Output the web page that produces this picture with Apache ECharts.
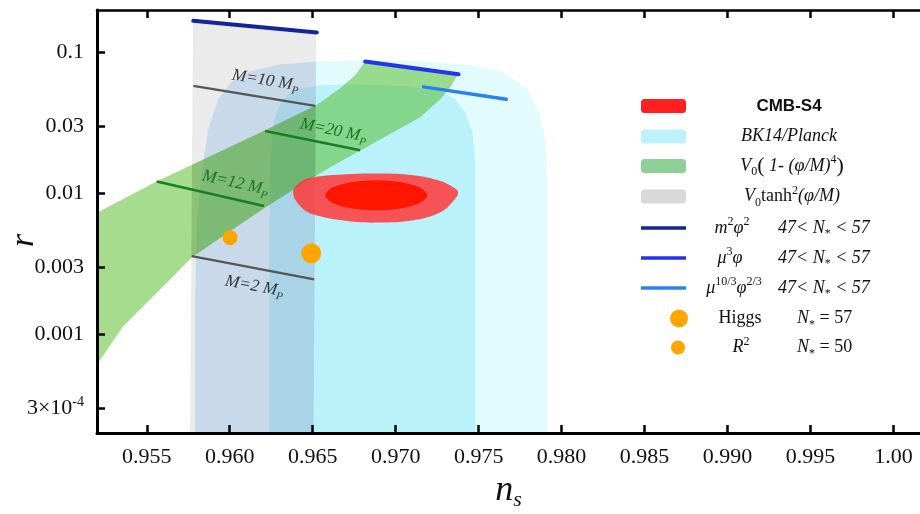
<!DOCTYPE html>
<html><head><meta charset="utf-8">
<script src="https://cdn.jsdelivr.net/npm/echarts@6/dist/echarts.min.js"></script>
<style>html,body{margin:0;padding:0;background:#fff}#c{width:920px;height:514px}</style>
</head><body><div id="c"></div>
<script>
// ---------------- data (ns, r) ----------------
const xTicks = [0.955, 0.960, 0.965, 0.970, 0.975, 0.980, 0.985, 0.990, 0.995, 1.00];
const xTickLabels = ['0.955', '0.960', '0.965', '0.970', '0.975', '0.980', '0.985', '0.990', '0.995', '1.00'];
const yTicks = [0.1, 0.03, 0.01, 0.003, 0.001, 0.0003];
const yTickLabels = ['0.1', '0.03', '0.01', '0.003', '0.001', '3×10^-4'];

const planckOuter = [[0.95791, 0.00012], [0.95791, 0.001772], [0.95803, 0.006555], [0.95833, 0.01484], [0.95870, 0.02853], [0.95930, 0.04661], [0.96014, 0.06254], [0.96123, 0.07366], [0.96304, 0.08260], [0.96545, 0.08675], [0.96816, 0.08817], [0.97148, 0.08675], [0.97450, 0.08126], [0.97649, 0.07246], [0.97793, 0.05487], [0.97860, 0.03768], [0.97902, 0.02423], [0.97914, 0.01260], [0.97914, 0.00012]];
const planckInner = [[0.96238, 0.00012], [0.96238, 0.004014], [0.96244, 0.01748], [0.96268, 0.03360], [0.96316, 0.04661], [0.96400, 0.05487], [0.96545, 0.05858], [0.96786, 0.05955], [0.97088, 0.05763], [0.97269, 0.05312], [0.97359, 0.04661], [0.97419, 0.03768], [0.97462, 0.02717], [0.97480, 0.01748], [0.97480, 0.00012]];
const tanhBand = [[0.95760, 0.00012], [0.95779, 0.1723], [0.96521, 0.1393], [0.96503, 0.00012]];
const hilltopBand = [[0.95152, 0.006806], [0.95562, 0.01220], [0.95882, 0.01835], [0.96213, 0.02807], [0.96521, 0.04224], [0.96666, 0.05577], [0.96756, 0.06901], [0.96816, 0.08675], [0.97377, 0.07014], [0.97329, 0.05670], [0.97269, 0.04661], [0.97148, 0.03472], [0.96605, 0.01533], [0.96424, 0.01143], [0.96207, 0.007847], [0.96002, 0.005387], [0.95773, 0.003522], [0.95562, 0.001987], [0.95357, 0.001140], [0.95152, 0.0005057]];
const cmbOuter = [[0.96382, 0.01019], [0.96424, 0.01200], [0.96503, 0.01302], [0.96708, 0.01368], [0.96907, 0.01383], [0.97106, 0.01346], [0.97269, 0.01226], [0.97347, 0.01105], [0.97377, 0.01019], [0.97347, 0.00884], [0.97269, 0.00735], [0.97106, 0.00645], [0.96889, 0.00621], [0.96708, 0.00637], [0.96503, 0.00711], [0.96424, 0.00815]];
const cmbInner = [[0.97190, 0.009702], [0.97149, 0.010965], [0.97036, 0.01200], [0.96883, 0.01240], [0.96729, 0.01200], [0.96616, 0.010965], [0.96575, 0.009702], [0.96616, 0.008582], [0.96729, 0.007845], [0.96883, 0.007593], [0.97036, 0.007845], [0.97149, 0.008582]];

const m2phi2 = [[0.9578, 0.1676], [0.96525, 0.1387]];
const mu3phi = [[0.96816, 0.08632], [0.97379, 0.07014]];
const mu103 = [[0.97168, 0.05698], [0.97667, 0.04661]];
const lineM10 = [[0.95781, 0.05793], [0.96515, 0.04177]];
const lineM2 = [[0.95771, 0.003597], [0.96509, 0.002458]];
const lineM12 = [[0.95560, 0.01214], [0.96207, 0.008146]];
const lineM20 = [[0.96213, 0.02776], [0.96786, 0.02025]];
const higgs = [[0.96491, 0.00376]];
const rSquared = [[0.96002, 0.00486]];

// ---------------- styling helpers ----------------
const SERIF = 'Liberation Serif';
function polySeries(name, pts, fill, opts) {
  opts = opts || {};
  return {
    type: 'custom', name: name, clip: true, silent: true,
    data: pts, encode: { x: 0, y: 1 },
    itemStyle: { color: fill },
    renderItem: function (params, api) {
      if (params.dataIndex !== 0) return null;
      const p = pts.map(v => api.coord(v));
      const el = { type: 'polygon', shape: { points: p, smooth: opts.smooth || 0 }, style: { fill: fill, stroke: null } };
      if (opts.clipTo) el.clipPath = { type: 'polygon', shape: { points: opts.clipTo.map(v => api.coord(v)) } };
      return el;
    }
  };
}
function labeledLine(pts, color, width, lab) {
  return {
    type: 'custom', clip: true, silent: true, data: pts, encode: { x: 0, y: 1 },
    renderItem: function (params, api) {
      if (params.dataIndex !== 0) return null;
      const a = api.coord(pts[0]), b = api.coord(pts[1]);
      const dx = b[0] - a[0], dy = b[1] - a[1], L = Math.hypot(dx, dy);
      const nx = dy / L, ny = -dx / L;
      const px = a[0] + dx * lab.t + nx * lab.off, py = a[1] + dy * lab.t + ny * lab.off;
      return {
        type: 'group', children: [
          { type: 'line', shape: { x1: a[0], y1: a[1], x2: b[0], y2: b[1] }, style: { stroke: color, lineWidth: width } },
          { type: 'text', x: px, y: py, rotation: -Math.atan2(dy, dx),
            style: { text: lab.text, align: 'center', verticalAlign: 'middle', fill: lab.color,
              rich: {
                i: { fontFamily: SERIF, fontStyle: 'italic', fontSize: 17, lineHeight: 22, fill: lab.color },
                s: { fontFamily: SERIF, fontStyle: 'italic', fontSize: 11, verticalAlign: 'bottom', fill: lab.color }
              } } }
        ]
      };
    }
  };
}
function lineSeries(name, pts, color, width) {
  return { type: 'line', name: name, data: pts, showSymbol: false, symbol: 'none', silent: true,
    lineStyle: { color: color, width: width, cap: 'round' }, itemStyle: { color: color } };
}

// ---------------- legend layout ----------------
const FONT = {
  b: { fontFamily: 'Liberation Sans', fontWeight: 'bold', fontSize: 17, lineHeight: 24 },
  i: { fontFamily: SERIF, fontStyle: 'italic', fontSize: 18, lineHeight: 24 },
  n: { fontFamily: SERIF, fontSize: 18, lineHeight: 24 },
  big: { fontFamily: SERIF, fontSize: 22, lineHeight: 24 },
  sup: { fontFamily: SERIF, fontSize: 12, verticalAlign: 'top' },
  sub: { fontFamily: SERIF, fontSize: 12, verticalAlign: 'bottom' }
};
const TEXT_H = 24;
const mctx = document.createElement('canvas').getContext('2d');
function tw(st, text) {
  const s = FONT[st];
  mctx.font = (s.fontStyle || 'normal') + ' ' + (s.fontWeight || 'normal') + ' ' + s.fontSize + 'px ' + s.fontFamily;
  return mctx.measureText(text).width;
}
const nStar = v => [['i', 'N'], ['sub', '*'], ['n', ' = ' + v]];
const nRange = [['i', '47< '], ['i', 'N'], ['sub', '*'], ['i', ' < 57']];
const legendRows = [
  { name: 'CMB-S4', icon: 'roundRect', color: '#ff2020', w: 45, h: 14, left: 641, cy: 109.5, c1: [['b', 'CMB-S4']], c1Center: 789 },
  { name: 'BK14/Planck', icon: 'roundRect', color: '#bdf2fb', w: 45, h: 14, left: 641, cy: 139.5, c1: [['i', 'BK14/Planck']], c1Center: 789 },
  { name: 'hilltop', icon: 'roundRect', color: '#8fd096', w: 45, h: 14, left: 641, cy: 166, c1: [['i', 'V'], ['sub', '0'], ['big', '('], ['i', ' 1- (φ/M)'], ['sup', '4'], ['big', ')']], c1Center: 792 },
  { name: 'tanh', icon: 'roundRect', color: '#d9d9d9', w: 45, h: 14, left: 641, cy: 196.5, c1: [['i', 'V'], ['sub', '0'], ['n', 'tanh'], ['sup', '2'], ['i', '(φ/M)']], c1Center: 792 },
  { name: 'm2phi2', icon: 'rect', color: '#14249a', w: 45, h: 3.5, left: 641, cy: 228, c1: [['i', 'm'], ['sup', '2'], ['i', 'φ'], ['sup', '2']], c1Center: 732, c2: nRange, c2Left: 778 },
  { name: 'mu3phi', icon: 'rect', color: '#2235e8', w: 45, h: 3.5, left: 641, cy: 258, c1: [['i', 'μ'], ['sup', '3'], ['i', 'φ']], c1Center: 730, c2: nRange, c2Left: 778 },
  { name: 'mu103', icon: 'rect', color: '#2a7ff5', w: 45, h: 3.5, left: 641, cy: 288, c1: [['i', 'μ'], ['sup', '10/3'], ['i', 'φ'], ['sup', '2/3']], c1Center: 734, c2: nRange, c2Left: 778 },
  { name: 'Higgs', icon: 'circle', color: '#ffa500', w: 18, h: 18, left: 670, cy: 321.5, c1: [['n', 'Higgs']], c1Center: 740, c2: nStar(57), c2Left: 797 },
  { name: 'R2', icon: 'circle', color: '#ffa500', w: 14, h: 14, left: 671, cy: 347.5, c1: [['i', 'R'], ['sup', '2']], c1Center: 741, c2: nStar(50), c2Left: 797 }
];
function buildLegend(row) {
  const textStart = row.left + row.w + 5;
  const w1 = row.c1.reduce((s, t) => s + tw(t[0], t[1]), 0);
  const c1Left = row.c1Center - w1 / 2;
  const rich = Object.assign({}, FONT);
  for (const k in rich) rich[k] = Object.assign({ color: '#111' }, rich[k]);
  rich.sa = { width: Math.max(0, c1Left - textStart) };
  let str = '{sa|}' + row.c1.map(t => '{' + t[0] + '|' + t[1] + '}').join('');
  if (row.c2) {
    rich.sb = { width: Math.max(0, row.c2Left - (c1Left + w1)) };
    str += '{sb|}' + row.c2.map(t => '{' + t[0] + '|' + t[1] + '}').join('');
  }
  const half = Math.max(row.h, TEXT_H) / 2;
  return {
    left: row.left, top: row.cy - half, padding: 0, orient: 'vertical',
    itemWidth: row.w, itemHeight: row.h, icon: row.icon, selectedMode: false,
    data: [{ name: row.name, icon: row.icon, itemStyle: { color: row.color, opacity: 1 } }],
    formatter: () => str,
    textStyle: { color: '#111', rich: rich }
  };
}

function yLab(v) {
  const i = yTicks.findIndex(t => Math.abs(t - v) / t < 1e-6);
  if (i < 0) return '';
  const m = yTickLabels[i].match(/^(.*)\^(.*)$/);
  return m ? '{a|' + m[1] + '}{p|' + m[2] + '}' : '{a|' + yTickLabels[i] + '}';
}
function xLab(v) {
  const i = xTicks.findIndex(t => Math.abs(t - v) < 1e-9);
  return i < 0 ? '' : xTickLabels[i];
}

const tickStyle = { color: '#000', width: 2.5 };
const option = {
  animation: false,
  backgroundColor: '#fff',
  grid: { left: 97, right: 0, top: 10, bottom: 81, containLabel: false, outerBoundsMode: 'none' },
  xAxis: [
    { type: 'value', min: 0.952, max: 1.0016, position: 'bottom', z: 10,
      axisLine: { onZero: false, lineStyle: { color: '#000', width: 3 } },
      axisTick: { show: true, inside: true, length: 8, customValues: xTicks, lineStyle: tickStyle },
      axisLabel: { customValues: xTicks, formatter: xLab, margin: 13, color: '#111', fontSize: 22, fontFamily: SERIF },
      splitLine: { show: false },
      name: '{n|n}{s|s}', nameLocation: 'middle', nameGap: 38,
      nameTextStyle: { rich: {
        n: { fontFamily: SERIF, fontStyle: 'italic', fontSize: 36, lineHeight: 40, color: '#111' },
        s: { fontFamily: SERIF, fontStyle: 'italic', fontSize: 22, verticalAlign: 'bottom', color: '#111' } } } },
    { type: 'value', min: 0.952, max: 1.0016, position: 'top', z: 10,
      axisLine: { onZero: false, lineStyle: { color: '#000', width: 2.5 } },
      axisTick: { show: true, inside: true, length: 8, customValues: xTicks, lineStyle: tickStyle },
      axisLabel: { show: false }, splitLine: { show: false } }
  ],
  yAxis: {
    type: 'log', logBase: 10, min: 0.0002, max: 0.2, position: 'left', z: 10,
    axisLine: { show: true, onZero: false, lineStyle: { color: '#000', width: 3 } },
    axisTick: { show: true, inside: true, length: 8, customValues: yTicks, lineStyle: tickStyle },
    minorTick: { show: false }, splitLine: { show: false }, minorSplitLine: { show: false },
    axisLabel: { customValues: yTicks, formatter: yLab, margin: 13,
      rich: { a: { fontFamily: SERIF, fontSize: 22, lineHeight: 26, color: '#111' },
              p: { fontFamily: SERIF, fontSize: 14, verticalAlign: 'top', color: '#111' } } },
    name: 'r', nameLocation: 'middle', nameGap: 56, nameMoveOverlap: false,
    nameTextStyle: { fontFamily: SERIF, fontStyle: 'italic', fontSize: 34, color: '#111', padding: [0, 38, 0, 0] }
  },
  legend: legendRows.map(buildLegend),
  series: [
    polySeries('tanh', tanhBand, '#ebebeb'),
    polySeries('BK14/Planck', planckOuter, '#e2fcfe'),
    polySeries('', planckInner, '#b9f2fb'),
    polySeries('', planckOuter, '#c8dae9', { clipTo: tanhBand }),
    polySeries('', planckInner, '#a9d3e7', { clipTo: tanhBand }),
    polySeries('hilltop', hilltopBand, 'rgba(80,185,30,0.5)'),
    polySeries('', hilltopBand, 'rgba(0,50,0,0.1)', { clipTo: tanhBand }),
    polySeries('CMB-S4', cmbOuter, 'rgba(255,55,55,0.85)', { smooth: 0.4 }),
    polySeries('', cmbInner, '#ff1600', { smooth: 0.3 }),
    labeledLine(lineM10, '#555555', 2.2, { text: '{i|M=10 M}{s|P}', t: 0.57, off: 17, color: '#333333' }),
    labeledLine(lineM2, '#555555', 2.2, { text: '{i|M=2 M}{s|P}', t: 0.54, off: -18, color: '#333333' }),
    labeledLine(lineM12, '#15801f', 2.5, { text: '{i|M=12 M}{s|P}', t: 0.70, off: 16, color: '#16751f' }),
    labeledLine(lineM20, '#15801f', 2.5, { text: '{i|M=20 M}{s|P}', t: 0.69, off: 14, color: '#16751f' }),
    lineSeries('m2phi2', m2phi2, '#14249a', 4),
    lineSeries('mu3phi', mu3phi, '#2235e8', 4),
    lineSeries('mu103', mu103, '#2a7ff5', 3.5),
    { type: 'scatter', name: 'Higgs', data: higgs, symbolSize: 20, itemStyle: { color: '#ffa500', opacity: 1 }, silent: true },
    { type: 'scatter', name: 'R2', data: rSquared, symbolSize: 15, itemStyle: { color: '#ffa500', opacity: 1 }, silent: true }
  ]
};
const chart = echarts.init(document.getElementById('c'));
chart.setOption(option);
</script>
</body></html>
